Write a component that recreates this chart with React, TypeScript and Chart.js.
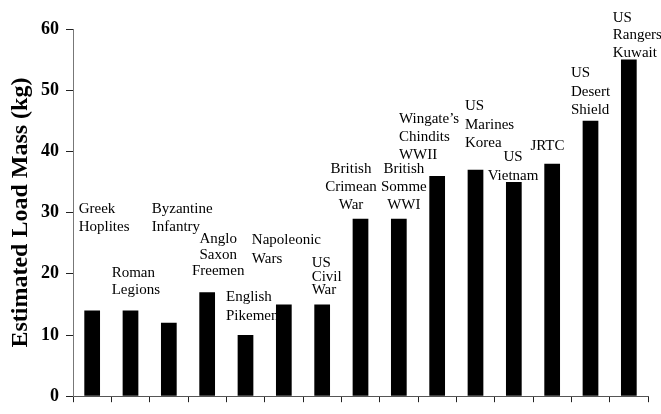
import React, { useEffect, useRef } from "react";
import { Chart, registerables } from "chart.js";

Chart.register(...registerables);

const categories: string[][] = [
  ["Greek", "Hoplites"],
  ["Roman", "Legions"],
  ["Byzantine", "Infantry"],
  ["Anglo", "Saxon", "Freemen"],
  ["English", "Pikemen"],
  ["Napoleonic", "Wars"],
  ["US", "Civil", "War"],
  ["British", "Crimean", "War"],
  ["British", "Somme", "WWI"],
  ["Wingate’s", "Chindits", "WWII"],
  ["US", "Marines", "Korea"],
  ["US", "Vietnam"],
  ["JRTC"],
  ["US", "Desert", "Shield"],
  ["US", "Rangers", "Kuwait"],
];

const loadMass: number[] = [14, 14, 12, 17, 10, 15, 15, 29, 29, 36, 37, 35, 38, 45, 55];

const yTicks = { min: 0, max: 60, step: 10 };
const yTitle = "Estimated Load Mass (kg)";

// Annotation placement: horizontal offset (px) from the category centre,
// alignment, first-line baseline expressed on the value axis, and line spacing (px).
type Lay = { align: CanvasTextAlign; dx: number; top: number; lh: number };
const labelLayout: Lay[] = [
  { align: "left", dx: -13.5, top: 29.9, lh: 17.4 },
  { align: "left", dx: -18.8, top: 19.4, lh: 17 },
  { align: "left", dx: -17.1, top: 29.9, lh: 17.4 },
  { align: "center", dx: 11, top: 25.1, lh: 16.4 },
  { align: "left", dx: -19.5, top: 15.5, lh: 18.5 },
  { align: "left", dx: -32, top: 24.8, lh: 18.3 },
  { align: "left", dx: -10.5, top: 21.1, lh: 13.7 },
  { align: "center", dx: -9.5, top: 36.4, lh: 17.8 },
  { align: "center", dx: 5, top: 36.4, lh: 17.8 },
  { align: "left", dx: -38.2, top: 44.7, lh: 18 },
  { align: "left", dx: -10.5, top: 46.7, lh: 18.3 },
  { align: "center", dx: -0.8, top: 38.4, lh: 18.5 },
  { align: "center", dx: -4.7, top: 40.3, lh: 18 },
  { align: "left", dx: -19.5, top: 52.1, lh: 18.3 },
  { align: "left", dx: -16.1, top: 61.2, lh: 17.5 },
];

const SERIF = '"Liberation Serif", "Times New Roman", serif';

const labelPlugin = {
  id: "barTextLabels",
  afterDatasetsDraw(chart: any) {
    const { ctx, scales } = chart;
    const x = scales.x;
    const y = scales.y;
    ctx.save();
    ctx.font = `15px ${SERIF}`;
    ctx.fillStyle = "#000";
    ctx.textBaseline = "alphabetic";
    categories.forEach((lines, i) => {
      const lay = labelLayout[i];
      const cx = x.getPixelForValue(i) + lay.dx;
      const by = y.getPixelForValue(lay.top);
      ctx.textAlign = lay.align;
      lines.forEach((t, j) => ctx.fillText(t, cx, by + j * lay.lh));
    });
    ctx.restore();
  },
};

export default function App() {
  const ref = useRef<HTMLCanvasElement | null>(null);

  useEffect(() => {
    if (!ref.current) return;
    Chart.defaults.font.family = SERIF;
    const chart = new Chart(ref.current, {
      type: "bar",
      data: {
        labels: categories,
        datasets: [
          {
            data: loadMass,
            backgroundColor: "#000",
            borderWidth: 0,
            barPercentage: 0.41,
            categoryPercentage: 1,
          },
        ],
      },
      options: {
        animation: false,
        responsive: false,
        layout: { padding: { top: 29, right: 13, bottom: 0, left: 0 } },
        plugins: {
          legend: { display: false },
          tooltip: { enabled: false },
        },
        scales: {
          x: {
            offset: true,
            grid: {
              offset: true,
              drawOnChartArea: false,
              drawTicks: true,
              tickLength: 6,
              color: "#222",
            },
            border: { display: true, color: "#555", width: 1 },
            ticks: { display: false },
            afterFit: (s: any) => {
              s.height = 8;
            },
          },
          y: {
            min: yTicks.min,
            max: yTicks.max,
            ticks: {
              stepSize: yTicks.step,
              color: "#000",
              padding: 7,
              font: { family: SERIF, size: 18, weight: "bold" },
            },
            grid: {
              drawOnChartArea: false,
              drawTicks: true,
              tickLength: 7,
              color: "#222",
            },
            border: { display: true, color: "#777", width: 1 },
            title: {
              display: true,
              text: yTitle,
              color: "#000",
              font: { family: SERIF, size: 24, weight: "bold" },
              padding: { top: 6.5, bottom: 0 },
            },
            afterFit: (s: any) => {
              s.width = 73;
            },
          },
        },
      },
      plugins: [labelPlugin],
    });
    return () => chart.destroy();
  }, []);

  return (
    <div style={{ position: "absolute", left: 0, top: 0, width: 661, height: 414, background: "#fff" }}>
      <canvas ref={ref} width={661} height={414} style={{ display: "block" }} />
    </div>
  );
}
